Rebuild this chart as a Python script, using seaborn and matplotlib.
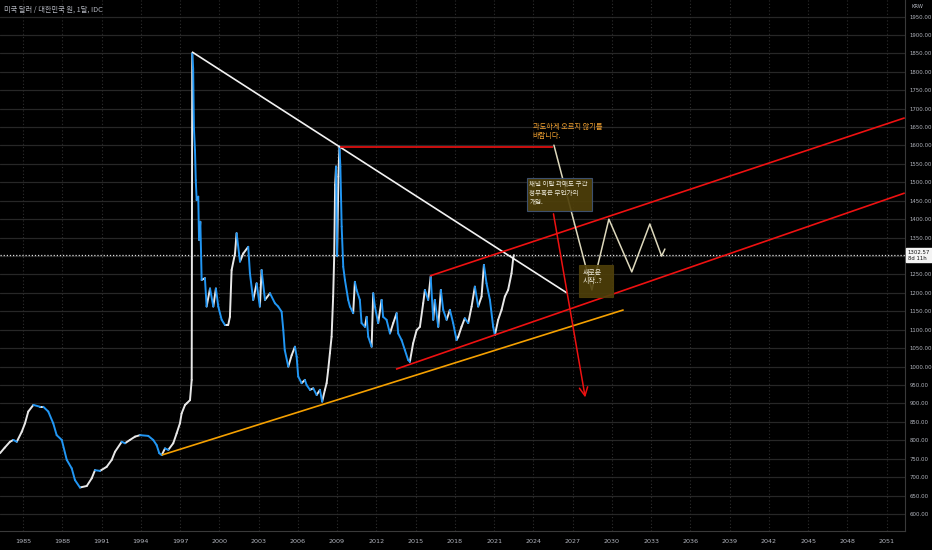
import numpy as np
import pandas as pd
import matplotlib
matplotlib.use("Agg")
import matplotlib.pyplot as plt
import matplotlib.transforms as mtransforms
from matplotlib.patches import Rectangle
import seaborn as sns

# ── USD/KRW (IDC) path ───────────────────────────────────────────────────────
YEARS = [
    1983.24, 1983.6, 1984.00, 1984.26, 1984.52, 1984.90, 1985.15, 1985.40, 1985.79,
    1986.30, 1986.55, 1986.93, 1987.31, 1987.57, 1987.96, 1988.34, 1988.72, 1988.97,
    1989.35, 1989.87, 1990.25, 1990.50, 1990.88, 1991.39, 1991.78, 1992.03, 1992.54,
    1992.79, 1993.17, 1993.56, 1993.94, 1994.57, 1994.95, 1995.21, 1995.41, 1995.60,
    1995.85, 1996.10, 1996.48, 1996.74, 1996.99, 1997.12, 1997.38, 1997.50, 1997.76,
    1997.89, 1997.93, 1998.00, 1998.06, 1998.14, 1998.20, 1998.27, 1998.39, 1998.45,
    1998.55, 1998.65, 1998.90, 1999.03, 1999.29, 1999.54, 1999.74, 1999.92, 2000.18,
    2000.43, 2000.68, 2000.81, 2000.94, 2001.20, 2001.32, 2001.58, 2001.83, 2002.21,
    2002.34, 2002.59, 2002.85, 2003.10, 2003.23, 2003.49, 2003.87, 2004.25, 2004.50,
    2004.76, 2004.89, 2005.00, 2005.27, 2005.53, 2005.78, 2005.91, 2006.03, 2006.29,
    2006.54, 2006.67, 2006.93, 2007.18, 2007.44, 2007.69, 2007.86, 2008.07, 2008.20,
    2008.32, 2008.45, 2008.58, 2008.70, 2008.78, 2008.85, 2008.92, 2009.00, 2009.10,
    2009.18, 2009.25, 2009.35, 2009.47, 2009.60, 2009.85, 2009.98, 2010.23, 2010.36,
    2010.49, 2010.74, 2010.87, 2011.13, 2011.26, 2011.38, 2011.64, 2011.76, 2011.89,
    2012.14, 2012.40, 2012.52, 2012.78, 2013.04, 2013.29, 2013.55, 2013.67, 2013.93,
    2014.18, 2014.43, 2014.56, 2014.81, 2015.08, 2015.33, 2015.58, 2015.71, 2015.96,
    2016.15, 2016.35, 2016.47, 2016.73, 2016.93, 2017.11, 2017.37, 2017.62, 2017.87,
    2018.13, 2018.26, 2018.51, 2018.76, 2019.02, 2019.28, 2019.53, 2019.78, 2020.04,
    2020.22, 2020.42, 2020.68, 2020.93, 2021.06, 2021.31, 2021.57, 2021.82, 2022.07,
    2022.33, 2022.46, 2022.51,
]
KRW = [
    765, 780, 796, 801, 796, 823, 846, 878, 896,
    891, 891, 878, 846, 814, 801, 747, 724, 692,
    672, 676, 697, 719, 717, 728, 747, 769, 796,
    792, 801, 810, 814, 812, 801, 787, 765, 760,
    778, 774, 792, 819, 846, 873, 896, 900, 909,
    964, 1850, 1809, 1647, 1588, 1506, 1452, 1461, 1344,
    1393, 1235, 1240, 1163, 1212, 1163, 1212, 1163, 1127,
    1113, 1113, 1135, 1262, 1307, 1362, 1285, 1307, 1325,
    1253, 1181, 1226, 1163, 1262, 1181, 1199, 1172, 1163,
    1149, 1099, 1045, 1000, 1031, 1054, 1027, 973, 955,
    964, 950, 937, 941, 923, 937, 905, 937, 955,
    991, 1036, 1081, 1190, 1300, 1493, 1543, 1300, 1516,
    1597, 1543, 1380, 1271, 1235, 1181, 1163, 1145, 1230,
    1208, 1181, 1118, 1108, 1135, 1081, 1054, 1199, 1163,
    1118, 1181, 1135, 1127, 1090, 1118, 1145, 1090, 1072,
    1045, 1018, 1013, 1063, 1099, 1108, 1172, 1208, 1181,
    1244, 1127, 1181, 1108, 1208, 1154, 1127, 1154, 1118,
    1072, 1081, 1108, 1131, 1118, 1163, 1217, 1163, 1190,
    1276, 1226, 1181, 1108, 1086, 1127, 1154, 1190, 1208,
    1253, 1294, 1302.57,
]
LAST_PRICE = 1302.57

# ── drawings (year, KRW) ─────────────────────────────────────────────────────
WHITE_TREND = [(1997.91, 1854), (2026.56, 1200)]
ORANGE_TREND = [(1995.60, 760), (2030.90, 1154)]
RED_LEVEL = [(2009.20, 1596), (2025.50, 1596)]
CHANNEL_UP = [(2016.09, 1246), (2052.38, 1675)]
CHANNEL_LOW = [(2013.50, 993), (2052.38, 1471)]
ARROW = [(2025.50, 1422), (2028.00, 909)]
PROJ_X = [2025.57, 2028.47, 2029.77, 2031.52, 2032.90, 2033.80, 2034.05]
PROJ_Y = [1601, 1208, 1400, 1257, 1387, 1300, 1319]

YEAR_TICKS = list(range(1985, 2052, 3))
PRICE_TICKS = list(range(600, 2000, 50))

BG = "#000000"
GRID = "#272727"
TXT = "#b2b5be"
UP = "#e8e8e8"
DOWN = "#2196f3"
RED = "#ee1111"
NOTE_FC = "#4f400a"

sns.set_theme(style="dark")
plt.rcParams["font.family"] = ["Noto Sans CJK KR", "DejaVu Sans"]
plt.rcParams["axes.unicode_minus"] = False

fig = plt.figure(figsize=(9.32, 5.5), dpi=100, facecolor=BG)
ax = fig.add_axes([0, 19 / 550, 905 / 932, 531 / 550])
ax.set_facecolor(BG)

# up / down colored segments of the price path
rows = []
for i in range(len(YEARS) - 1):
    d = "up" if KRW[i + 1] >= KRW[i] else "down"
    rows.append((i, YEARS[i], KRW[i], d))
    rows.append((i, YEARS[i + 1], KRW[i + 1], d))
seg = pd.DataFrame(rows, columns=["seg", "year", "krw", "dir"])
sns.lineplot(data=seg, x="year", y="krw", hue="dir", units="seg", estimator=None,
             palette={"up": UP, "down": DOWN}, legend=False, lw=1.4, ax=ax, zorder=3)

# trend drawings
def seg_line(pts, color, lw=1.2, z=4):
    ax.plot([p[0] for p in pts], [p[1] for p in pts], color=color, lw=lw,
            zorder=z, solid_capstyle="butt")

seg_line(WHITE_TREND, "#f2f2f2")
seg_line(ORANGE_TREND, "#f5a000")
seg_line(RED_LEVEL, RED)
seg_line(CHANNEL_UP, RED)
seg_line(CHANNEL_LOW, RED)
ax.annotate("", xy=ARROW[1], xytext=ARROW[0], zorder=4,
            arrowprops=dict(arrowstyle="->,head_length=0.5,head_width=0.25",
                            color=RED, lw=1.1))
sns.lineplot(x=PROJ_X, y=PROJ_Y, sort=False, color="#ddd8bc", lw=1.1, ax=ax, zorder=4)

# last price line + tag
ax.axhline(LAST_PRICE, color="#dddddd", lw=0.9, ls=(0, (1, 1.5)), zorder=2)
tr = mtransforms.blended_transform_factory(ax.transAxes, ax.transData)
ax.text(1.003, LAST_PRICE, "1302.57\n8d 11h", transform=tr, ha="left", va="center",
        fontsize=3.9, color="#111111", linespacing=1.3, family="DejaVu Sans",
        bbox=dict(boxstyle="square,pad=0.3", fc="#f4f4f4", ec="#f4f4f4"),
        clip_on=False, zorder=10)

# notes
ax.text(2023.96, 1662, "과도하게 오르지 않기를\n바랍니다.", color="#f0a030",
        fontsize=5.2, ha="left", va="top", linespacing=1.15, zorder=6)

ax.add_patch(Rectangle((2023.5, 1422), 4.97, 90, fc=NOTE_FC, ec="#405578",
                       lw=0.8, alpha=0.92, zorder=5))
ax.text(2023.7, 1506, "채널 이탈 과매도 구간\n정부혹은 무언가의\n개입.", color="#eeeadb",
        fontsize=4.7, ha="left", va="top", linespacing=1.15, zorder=6)

ax.add_patch(Rectangle((2027.47, 1189), 2.6, 87, fc=NOTE_FC, ec=NOTE_FC,
                       lw=0.8, alpha=0.9, zorder=5))
ax.text(2027.75, 1266, "새로운\n시작..?", color="#eeeadb",
        fontsize=5.0, ha="left", va="top", linespacing=1.15, zorder=6)

# header
ax.text(0.004, 0.989, "미국 달러 / 대한민국 원, 1달, IDC", transform=ax.transAxes,
        fontsize=5.2, color=TXT, ha="left", va="top", zorder=8)

# axes
ax.set_xlim(1983.24, 2052.4)
ax.set_ylim(553.9, 1994.8)
ax.set_xticks(YEAR_TICKS)
ax.set_xticklabels([str(y) for y in YEAR_TICKS])
ax.set_yticks(PRICE_TICKS)
ax.set_yticklabels(["" if v == 1300 else f"{v:.2f}" for v in PRICE_TICKS])
ax.yaxis.tick_right()
ax.tick_params(axis="both", length=0, labelcolor=TXT)
ax.tick_params(axis="y", pad=3, labelsize=3.9)
ax.tick_params(axis="x", pad=6, labelsize=4.6)
for lab in ax.get_xticklabels() + ax.get_yticklabels():
    lab.set_family("DejaVu Sans")
ax.set_xlabel("")
ax.set_ylabel("")
ax.grid(False)
for v in PRICE_TICKS:
    ax.axhline(v, color=GRID, lw=0.9, zorder=0)
for y in YEAR_TICKS:
    ax.axvline(y, color="#2e2e2e", lw=0.8, ls=(0, (1, 2)), zorder=0)
for s in ["top", "left"]:
    ax.spines[s].set_visible(False)
ax.spines["bottom"].set_color("#3a3a3a")
ax.spines["right"].set_color("#3a3a3a")
ax.spines["bottom"].set_linewidth(0.8)
ax.spines["right"].set_linewidth(0.8)
fig.text(912 / 932, 1 - 7 / 550, "KRW", fontsize=3.8, color=TXT, ha="left", va="center",
         family="DejaVu Sans")

fig.savefig("out.png", dpi=100, facecolor=BG)
